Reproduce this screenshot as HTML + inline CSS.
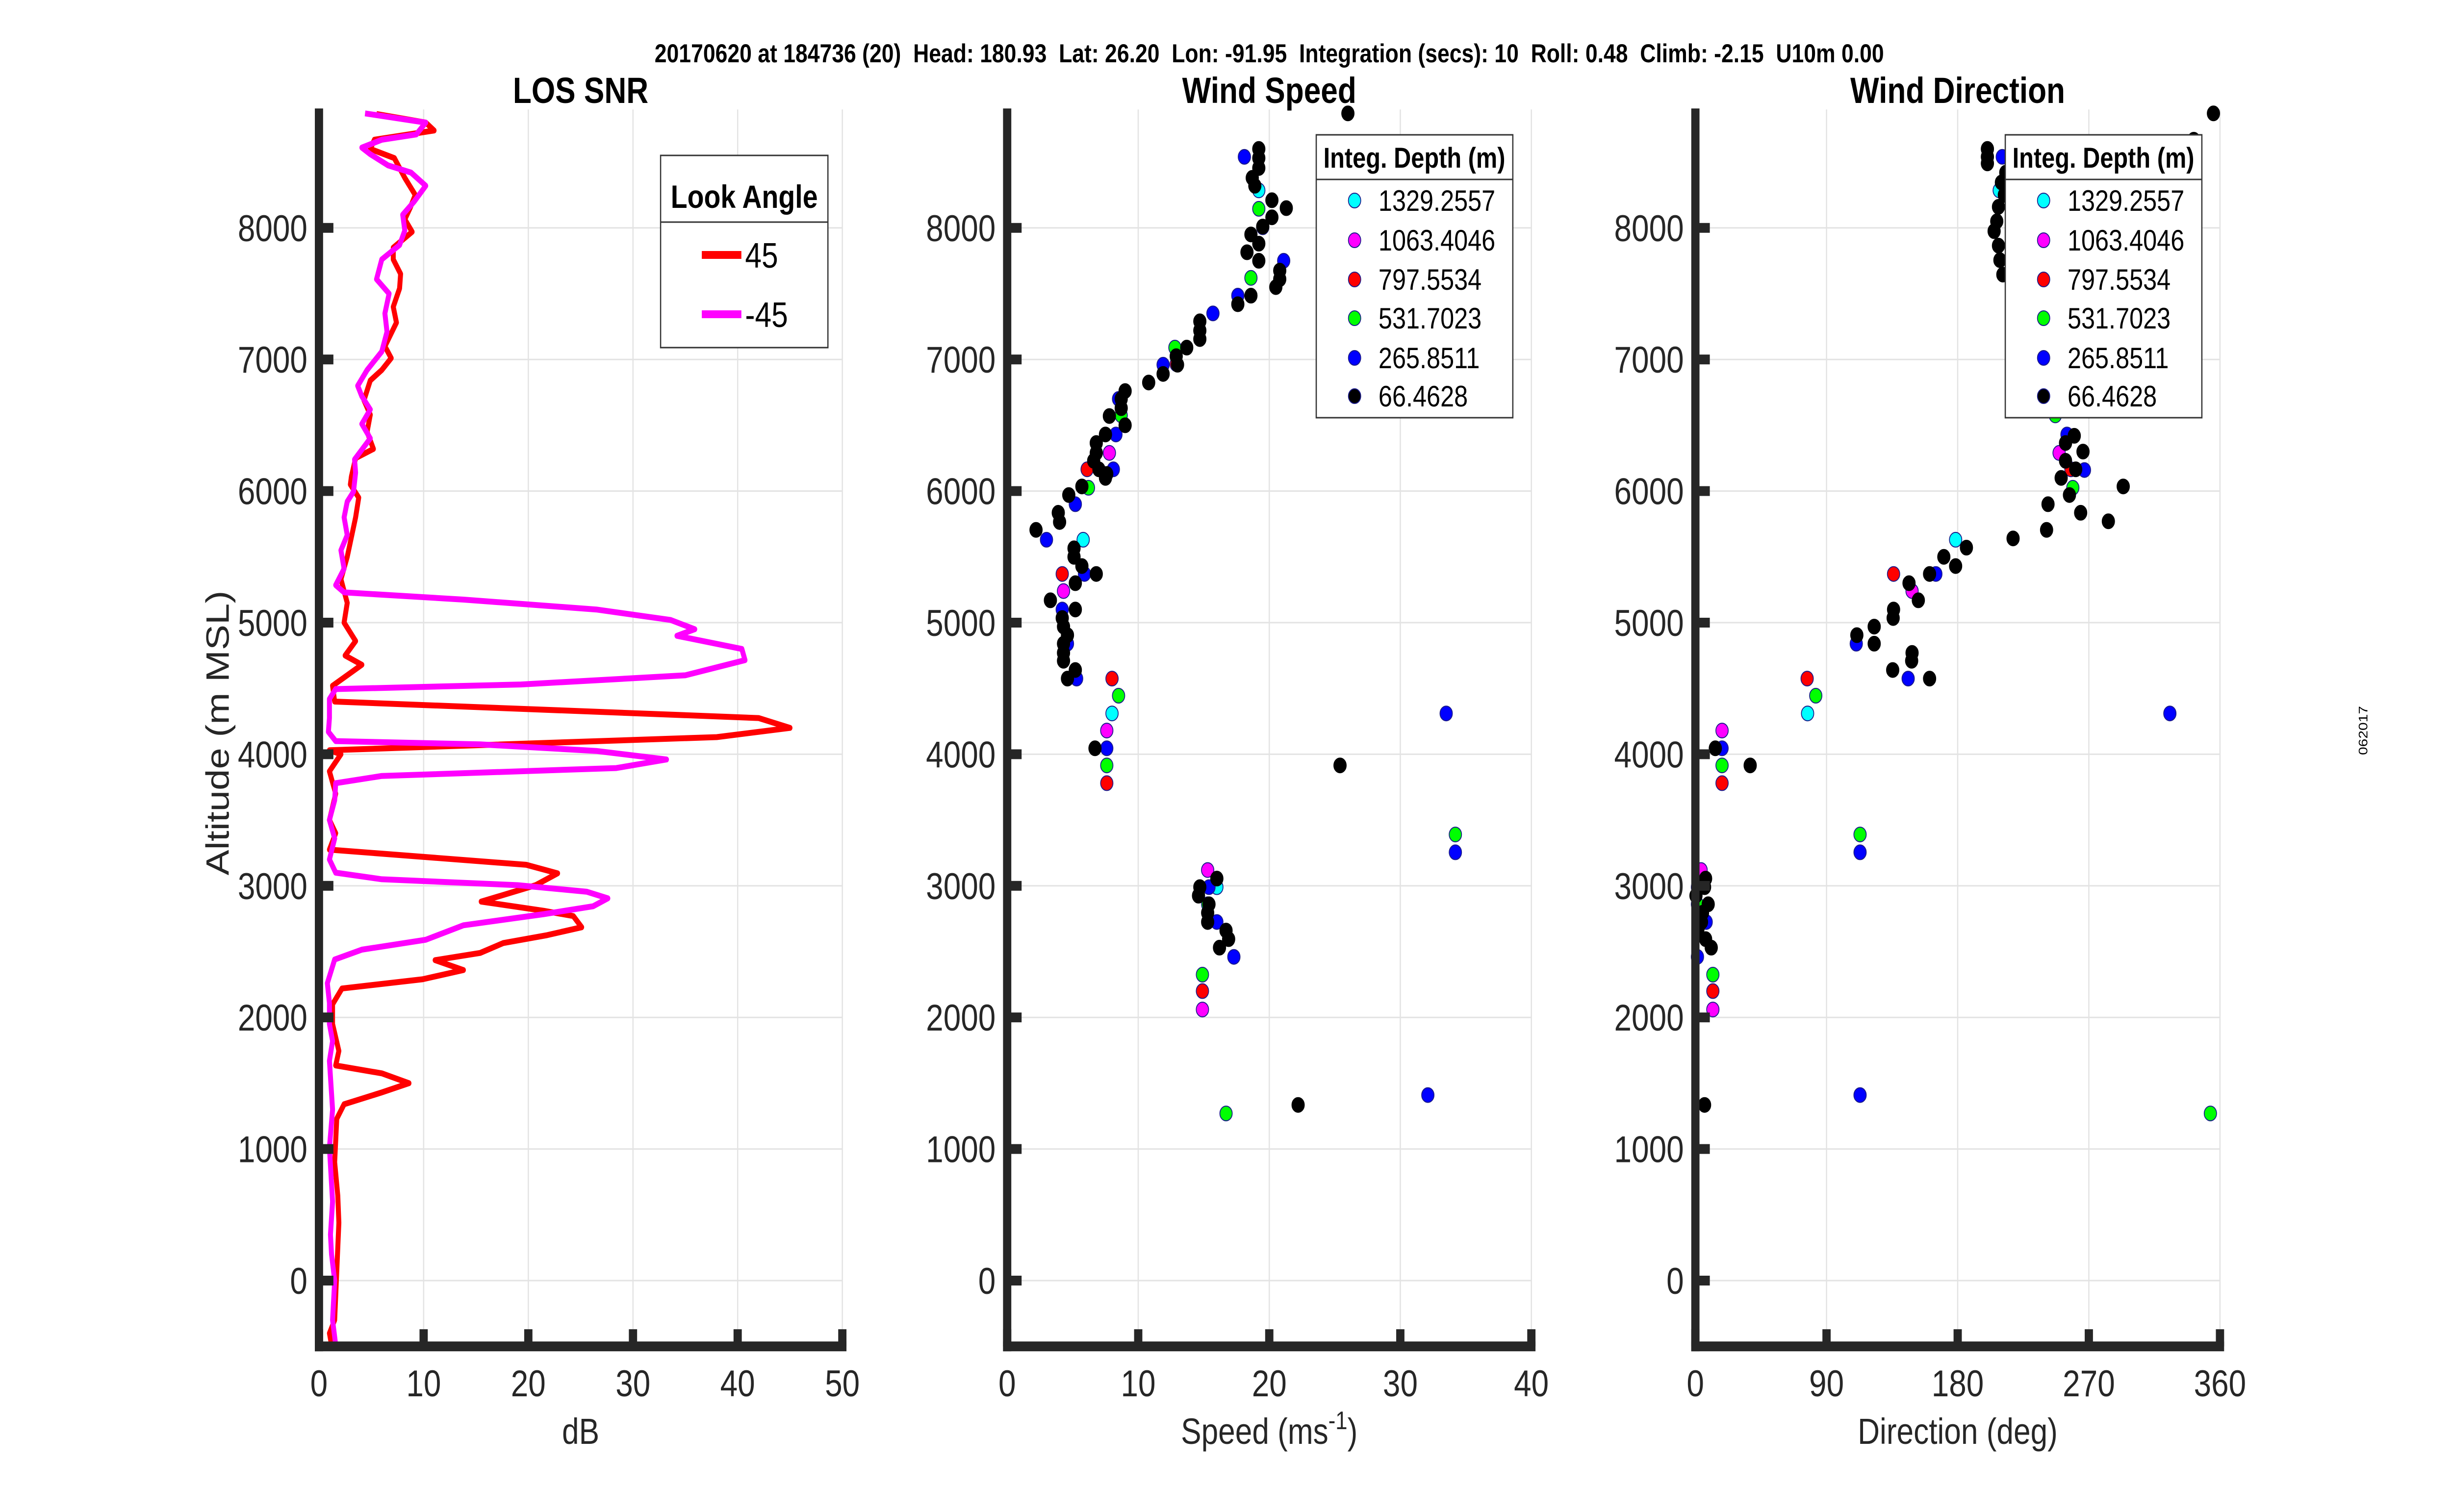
<!DOCTYPE html>
<html><head><meta charset="utf-8"><style>
html,body{margin:0;padding:0;background:#fff;width:100%;height:100%;overflow:hidden;}
svg{display:block;position:absolute;left:0;top:0;width:100vw;height:100vh;font-family:"Liberation Sans",Arial,sans-serif;}
</style></head><body>
<svg id="fig" viewBox="0 0 5950 3084" preserveAspectRatio="none" xmlns="http://www.w3.org/2000/svg">
<rect width="5950" height="3084" fill="#fff"/>
<text x="3080" y="127" font-size="53" font-weight="bold" text-anchor="middle" fill="#000" style="white-space:pre" xml:space="preserve">20170620 at 184736 (20)  Head: 180.93  Lat: 26.20  Lon: -91.95  Integration (secs): 10  Roll: 0.48  Climb: -2.15  U10m 0.00</text>
<text transform="translate(5745,1490) rotate(-90)" font-size="30" text-anchor="middle" fill="#000">062017</text>
</svg>
<script>
// ---- Panel 1: LOS SNR ----
const snrRedAlt = [-490,-400,-300,440,645,900,1230,1340,1430,1500,1575,1635,1745,1950,2100,2220,2290,2360,2435,2490,2565,2625,2685,2770,2810,2880,3005,3095,3160,3275,3400,3500,3700,3870,4000,4030,4130,4200,4275,4400,4520,4680,4750,4860,5000,5150,5330,5500,5800,5950,6050,6110,6250,6320,6450,6580,6690,6840,6920,7010,7100,7280,7400,7540,7650,7760,7850,7970,8065,8150,8250,8380,8530,8600,8670,8740,8800,8865];
const snrRedDb = [1.2,1.0,1.5,1.9,1.8,1.5,1.7,2.4,6.0,8.6,6.0,1.6,1.9,1.3,1.3,2.2,9.9,13.8,11.1,15.4,17.6,21.8,25.1,24.3,21.5,15.5,20.7,22.8,19.8,1.0,1.6,1.0,1.6,1.0,2.1,1.0,38.0,45.0,42.0,1.5,1.3,4.1,2.5,3.5,2.4,2.7,2.1,2.7,3.5,3.8,3.0,3.1,3.5,5.2,4.6,4.9,4.3,4.9,6.0,6.9,6.3,7.4,7.1,7.7,7.8,7.1,7.1,8.9,8.2,8.7,9.2,8.2,7.2,4.9,5.3,11.0,10.2,5.5];
const snrMagAlt = [-490,-300,0,200,350,600,1010,1300,1670,1820,1950,2110,2260,2440,2515,2590,2700,2785,2845,2905,2955,3005,3050,3100,3200,3360,3500,3650,3780,3835,3895,3960,4025,4075,4100,4170,4275,4420,4495,4530,4600,4715,4800,4900,4950,5020,5100,5175,5230,5285,5410,5550,5665,5800,5920,5995,6140,6240,6400,6510,6620,6720,6800,6920,7060,7210,7350,7500,7610,7760,7870,7980,8100,8200,8320,8420,8475,8560,8610,8670,8710,8800,8870];
const snrMagDb = [1.6,1.3,1.5,1.2,1.1,1.3,1.0,1.3,1.0,1.3,1.0,1.0,0.8,1.5,4.1,10.2,13.8,21.5,26.2,27.6,25.6,19.0,6.0,1.6,1.0,1.5,1.0,1.5,1.6,6.0,28.4,33.2,26.5,15.4,1.6,0.9,1.0,1.0,1.6,19.3,35.0,40.7,40.4,34.2,35.9,33.6,26.5,13.8,2.4,1.6,2.4,2.1,2.7,2.4,2.7,3.3,3.5,3.4,4.9,4.1,4.9,4.1,3.7,4.6,6.0,6.5,6.3,6.7,5.5,6.0,7.7,8.2,8.0,9.1,10.2,8.8,6.6,4.9,4.1,6.0,9.3,10.2,4.4];
const snrXTicks = [0,10,20,30,40,50];
const altTicks = [0,1000,2000,3000,4000,5000,6000,7000,8000];
const lookAngleLabels = ["45","-45"];

// ---- Panel 2: Wind Speed ----
const depthLabels = ["1329.2557","1063.4046","797.5534","531.7023","265.8511","66.4628"];
const depthColors = ["#00ffff","#ff00ff","#ff0000","#00ff00","#0000ff","#000000"];
const spdCyan = [5.8,8.0,16.0,19.2];
const spdCyanAlt = [5630,4310,2990,8285];
const spdMag = [4.3,7.8,7.6,15.3,14.9];
const spdMagAlt = [5240,6290,4180,3120,2060];
const spdRed = [4.2,6.1,8.0,7.6,14.9,12.9];
const spdRedAlt = [5370,6165,4575,3780,2200,6965];
const spdGreen = [6.2,8.7,12.8,19.2,18.6,8.5,7.6,34.2,14.9,15.3,16.7];
const spdGreenAlt = [6025,6575,7090,8145,7620,4445,3915,3390,2325,2860,1270];
const spdBlue = [18.1,19.5,21.1,17.6,15.7,11.9,8.5,8.3,8.1,5.2,3.0,5.9,4.2,4.6,5.3,7.6,33.5,34.2,15.4,16.0,17.3,32.1];
const spdBlueAlt = [8540,8005,7750,7485,7350,6960,6700,6430,6165,5900,5630,5370,5100,4840,4575,4045,4310,3255,2990,2725,2460,1410];
const spdBlack = [26.0,19.2,19.2,19.2,18.7,18.9,20.2,21.3,20.2,19.5,18.6,19.2,18.3,19.2,20.8,20.8,20.5,18.6,17.6,14.7,14.7,14.7,13.7,12.9,13.0,11.9,10.8,9.0,8.7,8.7,9.0,7.8,7.5,6.8,6.8,6.6,7.0,7.5,7.6,5.7,4.7,3.9,4.0,2.2,5.1,5.1,5.7,6.8,5.2,3.3,5.2,4.2,4.3,4.6,4.3,4.3,4.3,5.2,4.6,6.7,25.4,16.0,14.7,14.6,15.4,15.3,15.3,16.7,16.9,16.2,22.2];
const spdBlackAlt = [8870,8600,8530,8455,8380,8320,8210,8150,8080,8010,7950,7880,7815,7750,7675,7610,7550,7485,7420,7290,7220,7155,7090,7025,6960,6890,6825,6760,6700,6630,6500,6570,6430,6365,6290,6230,6165,6100,6130,6035,5970,5835,5765,5705,5565,5500,5430,5370,5300,5170,5100,5035,4970,4905,4840,4770,4710,4640,4575,4045,3915,3055,2990,2925,2860,2795,2725,2660,2595,2530,1335];
const spdXTicks = [0,10,20,30,40];

// ---- Panel 3: Wind Direction ----
const dirCyan = [178.6,77,208.5];
const dirCyanAlt = [5630,4310,8285];
const dirMag = [148.7,249.6,18.3,3.9,12];
const dirMagAlt = [5240,6290,4180,3120,2060];
const dirRed = [136,76.7,18.3,12,257.7];
const dirRedAlt = [5370,4575,3780,2200,6165];
const dirGreen = [259,247,82.6,18.3,113,12,353.4,1.4];
const dirGreenAlt = [6025,6575,4445,3915,3390,2325,1270,2860];
const dirBlue = [210.6,165,110.4,146,267,18.3,325.6,113,1.4,7.4,1.4,113,255];
const dirBlueAlt = [8540,5370,4840,4575,6160,4045,4310,3255,2990,2725,2460,1410,6430];
const dirBlack = [355.5,200.4,200.4,200.4,210,212,208,206.8,205,208,209,211,213,260,266,254,254,261,251,256.7,264.4,293.6,283.4,242,241,218,186,170.5,178.6,160.7,146.6,153,136,135.7,122.7,110.8,122.7,148.7,148.4,135.4,160.7,13.7,37.6,7,6.3,0.4,8.8,4.9,1.8,4.2,7,10.9,6.3,342];
const dirBlackAlt = [8870,8600,8540,8490,8345,8250,8160,8050,7975,7865,7755,7645,8420,6420,6300,6365,6230,6165,6100,5970,5835,6035,5770,5900,5705,5640,5570,5500,5430,5370,5300,5170,5100,5035,4970,4905,4840,4770,4710,4640,4575,4045,3915,3055,2990,2925,2860,2795,2675,2725,2595,2530,1335,8670];
const dirXTicks = [0,90,180,270,360];

const NS = "http://www.w3.org/2000/svg";
const svg = document.getElementById("fig");
const Y0 = 2612, YPER = 0.2684;
function yS(a){ return Y0 - a*YPER; }
const Y_TOP = yS(8900), Y_BOT = yS(-500);
function mk(tag, attrs, parent){
  const e = document.createElementNS(NS, tag);
  for (const k in attrs) e.setAttribute(k, attrs[k]);
  (parent||svg).appendChild(e);
  return e;
}
const AX = "#262626";

function drawAxes(g, x0, x1, xmax, xticks, pname){
  const xS = v => x0 + (v/xmax)*(x1-x0);
  xticks.forEach(t => {
    if (t===0) return;
    const l = mk("line",{x1:xS(t),x2:xS(t),y1:Y_TOP,y2:Y_BOT,stroke:"#e3e3e3","stroke-width":3},g);
    
    
  });
  altTicks.forEach(t => {
    const l = mk("line",{x1:x0,x2:x1,y1:yS(t),y2:yS(t),stroke:"#e3e3e3","stroke-width":3},g);
    
    
  });
  return xS;
}
function finishAxes(g, x0, x1, xmax, xticks, xlabelText, title, pname, showYLabel){
  const xS = v => x0 + (v/xmax)*(x1-x0);
  const ax = mk("g",{},g);
  
  
  mk("rect",{x:x0-10,y:Y_TOP-2,width:20,height:Y_BOT-Y_TOP+12,fill:AX},ax);
  mk("rect",{x:x0-10,y:Y_BOT-10,width:(x1-x0)+20,height:20,fill:AX},ax);
  altTicks.forEach(t => {
    mk("rect",{x:x0,y:yS(t)-10,width:35,height:20,fill:AX},ax);
    const tx = mk("text",{x:x0-28,y:yS(t)+27,"font-size":76,"text-anchor":"end",fill:AX},ax);
    tx.textContent = String(t);
    
    
  });
  xticks.forEach(t => {
    mk("rect",{x:xS(t)-10,y:Y_BOT-35,width:20,height:35,fill:AX},ax);
    const tx = mk("text",{x:xS(t),y:2848,"font-size":76,"text-anchor":"middle",fill:AX},ax);
    tx.textContent = String(t);
    
    
  });
  const cx = (x0+x1)/2;
  const xl = mk("text",{x:cx,y:2945,"font-size":74,"text-anchor":"middle",fill:AX},ax);
  if (xlabelText === "SPEED") {
    xl.innerHTML = 'Speed (ms<tspan dy="-30" font-size="52">-1</tspan><tspan dy="30">)</tspan>';
  } else xl.textContent = xlabelText;
  
  
  const tt = mk("text",{x:cx,y:210,"font-size":74,"font-weight":"bold","text-anchor":"middle",fill:"#000"},g);
  tt.textContent = title;
  
  
  if (showYLabel){
    const yl = mk("text",{transform:"translate(555,1495) rotate(-90)","font-size":78,"text-anchor":"middle",fill:AX},ax);
    yl.textContent = "Altitude (m MSL)";
    
    
  }
}

// Panel 1
const g1 = mk("g",{});


const P1 = {x0:774, x1:2044, xmax:50};
const xs1 = drawAxes(g1,P1.x0,P1.x1,P1.xmax,snrXTicks,"snr");
function linePts(xs, ys, xS){ return xs.map((v,i)=> xS(v).toFixed(1)+","+yS(ys[i]).toFixed(1)).join(" "); }
const redLine = mk("polyline",{points:linePts(snrRedDb,snrRedAlt,xs1),fill:"none",stroke:"#ff0000","stroke-width":12,"stroke-linejoin":"round"},g1);


const magLine = mk("polyline",{points:linePts(snrMagDb,snrMagAlt,xs1),fill:"none",stroke:"#ff00ff","stroke-width":12,"stroke-linejoin":"round"},g1);


finishAxes(g1,P1.x0,P1.x1,P1.xmax,snrXTicks,"dB","LOS SNR","snr",true);
const lg1 = mk("g",{},g1);


mk("rect",{x:1603,y:317,width:406,height:392,fill:"#fff",stroke:"#333","stroke-width":3},lg1);
mk("line",{x1:1603,x2:2009,y1:453,y2:453,stroke:"#333","stroke-width":3},lg1);
const lh = mk("text",{x:1806,y:424,"font-size":66,"font-weight":"bold","text-anchor":"middle",fill:"#000"},lg1);
lh.textContent = "Look Angle";


["#ff0000","#ff00ff"].forEach((c,i)=>{
  const yy = [520,641][i];
  const ent = mk("g",{},lg1);
  
  
  mk("line",{x1:1703,x2:1799,y1:yy,y2:yy,stroke:c,"stroke-width":16},ent);
  const t = mk("text",{x:1808,y:yy+26,"font-size":72,fill:"#000"},ent);
  t.textContent = lookAngleLabels[i];
});

function drawScatter(g, xS, sets, pname){
  sets.forEach((s,si)=>{
    const sg = mk("g",{},g);
    
    
    s[0].forEach((v,i)=>{
      const c = mk("circle",{cx:xS(v).toFixed(1),cy:yS(s[1][i]).toFixed(1),r:15,fill:depthColors[si],stroke:si===5?"#000":"#1a1a8a","stroke-width":2},sg);
      
      
    });
  });
}
function drawDepthLegend(g, lx, pname){
  const lg = mk("g",{},g);
  
  
  mk("rect",{x:lx,y:275,width:477,height:577,fill:"#fff",stroke:"#333","stroke-width":3},lg);
  mk("line",{x1:lx,x2:lx+477,y1:366,y2:366,stroke:"#333","stroke-width":3},lg);
  const h = mk("text",{x:lx+238,y:342,"font-size":58,"font-weight":"bold","text-anchor":"middle",fill:"#000"},lg);
  h.textContent = "Integ. Depth (m)";
  
  
  const rows = [409,490,570,649,730,808];
  depthLabels.forEach((lab,i)=>{
    const ent = mk("g",{},lg);
    
    
    mk("circle",{cx:lx+93,cy:rows[i],r:15,fill:depthColors[i],stroke:"#1a1a8a","stroke-width":2},ent);
    const t = mk("text",{x:lx+151,y:rows[i]+21,"font-size":60,fill:"#000"},ent);
    t.textContent = lab;
  });
}

// Panel 2
const g2 = mk("g",{});


const P2 = {x0:2444, x1:3716, xmax:40};
const xs2 = drawAxes(g2,P2.x0,P2.x1,P2.xmax,spdXTicks,"speed");
drawScatter(g2, xs2, [[spdCyan,spdCyanAlt],[spdMag,spdMagAlt],[spdRed,spdRedAlt],[spdGreen,spdGreenAlt],[spdBlue,spdBlueAlt],[spdBlack,spdBlackAlt]], "speed");
finishAxes(g2,P2.x0,P2.x1,P2.xmax,spdXTicks,"SPEED","Wind Speed","speed",false);
drawDepthLegend(g2, 3194, "speed");

// Panel 3
const g3 = mk("g",{});


const P3 = {x0:4114, x1:5387, xmax:360};
const xs3 = drawAxes(g3,P3.x0,P3.x1,P3.xmax,dirXTicks,"direction");
drawScatter(g3, xs3, [[dirCyan,dirCyanAlt],[dirMag,dirMagAlt],[dirRed,dirRedAlt],[dirGreen,dirGreenAlt],[dirBlue,dirBlueAlt],[dirBlack,dirBlackAlt]], "direction");
finishAxes(g3,P3.x0,P3.x1,P3.xmax,dirXTicks,"Direction (deg)","Wind Direction","direction",false);
drawDepthLegend(g3, 4866, "direction");
</script>
</body></html>
